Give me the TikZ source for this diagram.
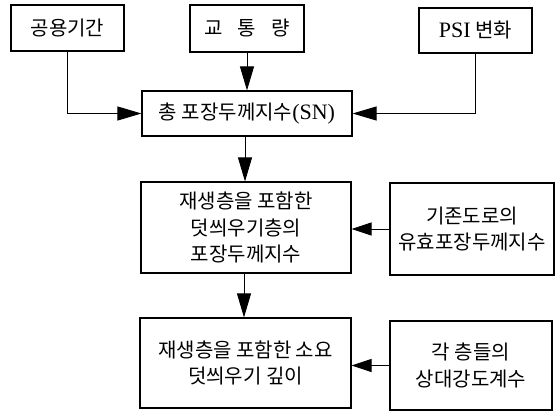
\documentclass[tikz,border=0pt]{standalone}
\usepackage{fontspec}
\newfontfamily\kr{Noto Sans CJK KR}
\newfontfamily\lat{Liberation Serif}
\newcommand\latbig[1]{{\lat\fontsize{22}{26.5}\selectfont #1}}
\usetikzlibrary{arrows.meta}
\begin{document}
\begin{tikzpicture}[x=1pt,y=-1pt,
  box/.style={draw,line width=1.1pt,align=center,inner sep=0pt,
    font=\kr\fontsize{20}{26.5}\selectfont},
  conn/.style={line width=0.9pt},
  arr/.style={conn,-{Triangle[length=24pt,width=14pt]}},
  harr/.style={conn,-{Triangle[length=20pt,width=13pt]}}]
\useasboundingbox (0,0) rectangle (557,412);
\node[box,minimum width=113pt,minimum height=46pt] (b1) at (67.5,28) {공용기간};
\node[box,minimum width=114pt,minimum height=47pt] (b2) at (247,28.5) {교\hspace{0.75em}통\hspace{0.75em}량};
\node[box,minimum width=113pt,minimum height=45pt] (b3) at (475.5,30.5) {\latbig{PSI} 변화};
\node[box,minimum width=210pt,minimum height=45pt] (sn) at (247,113.5) {총 포장두께지수\latbig{(SN)}};
\node[box,minimum width=210pt,minimum height=91pt] (mid) at (246,227.5) {재생층을 포함한\\덧씌우기층의\\포장두께지수};
\node[box,minimum width=164pt,minimum height=92pt] (rmid) at (472,229) {기존도로의\\유효포장두께지수};
\node[box,minimum width=211pt,minimum height=90pt] (bot) at (245.5,363) {재생층을 포함한 소요\\덧씌우기 깊이};
\node[box,minimum width=162pt,minimum height=89pt] (rbot) at (471,365.5) {각 층들의\\상대강도계수};
\draw[arr] (b1.south) |- (sn.west);
\draw[arr] (b2.south) -- (b2.south |- sn.north);
\draw[arr] (b3.south) |- (sn.east);
\draw[arr] (sn.south -| 245,0) -- (245,0 |- mid.north);
\draw[arr] (mid.south -| 244,0) -- (244,0 |- bot.north);
\draw[harr] (rmid.west) -- (rmid.west -| mid.east);
\draw[harr] (rbot.west) -- (rbot.west -| bot.east);
\end{tikzpicture}
\end{document}
